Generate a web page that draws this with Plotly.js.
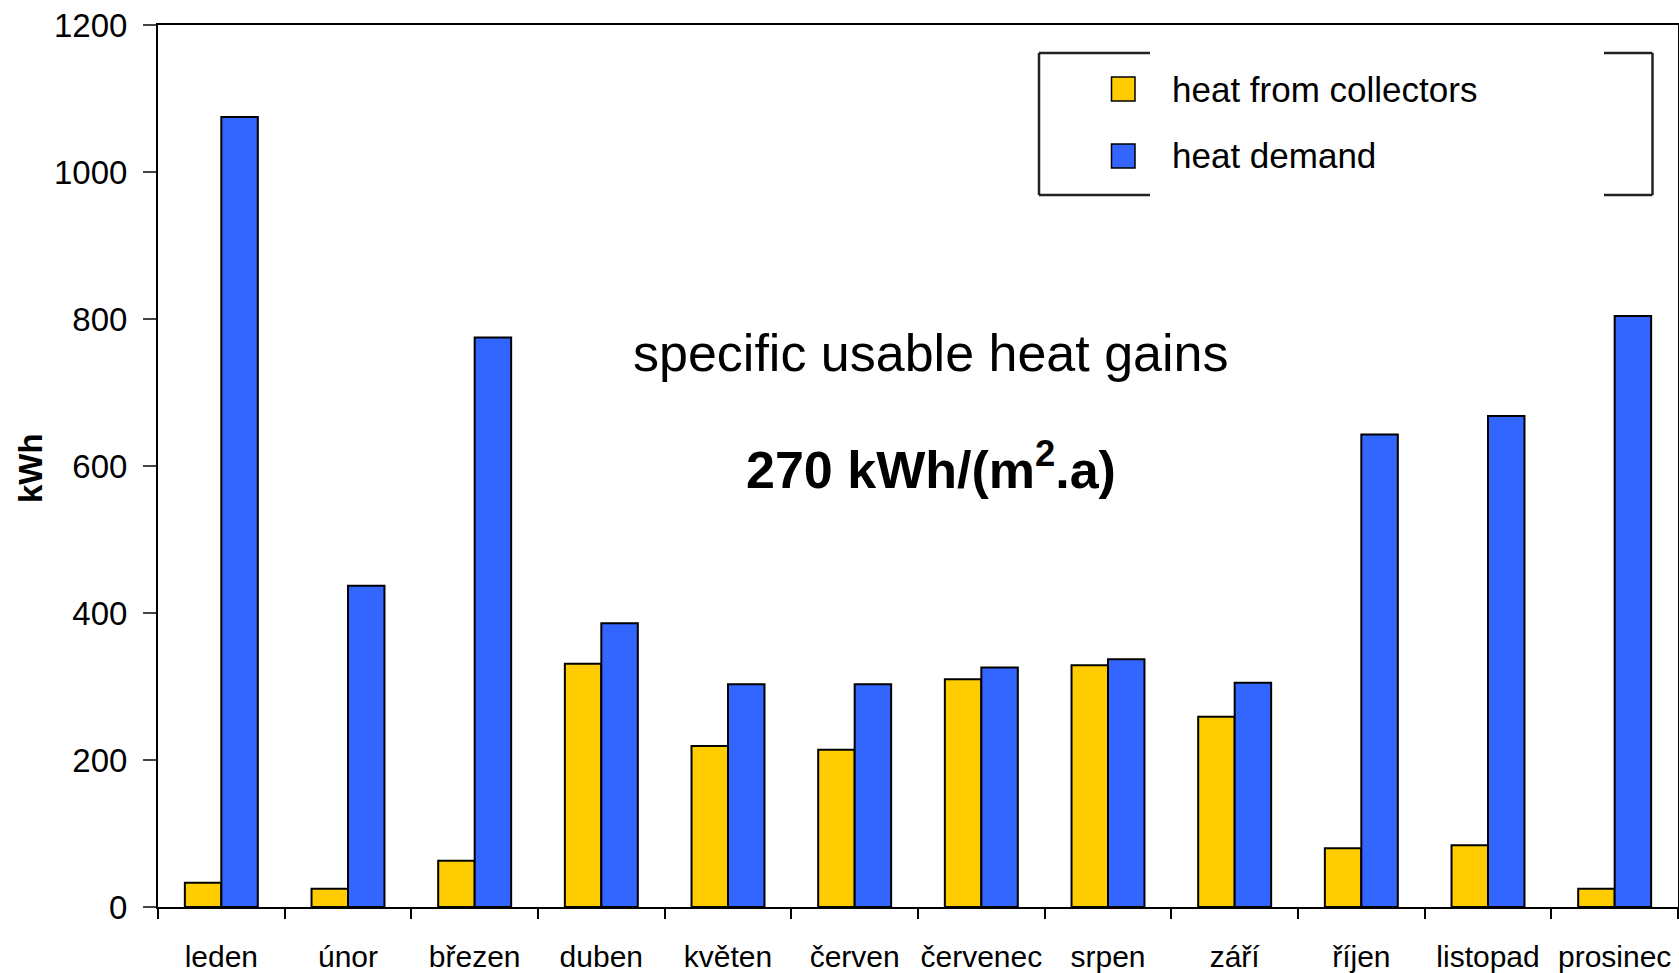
<!DOCTYPE html>
<html>
<head>
<meta charset="utf-8">
<script src="https://cdn.plot.ly/plotly-3.0.1.min.js"></script>
<style>html,body{margin:0;padding:0;background:#fff;}</style>
</head>
<body>
<div id="chart" style="width:1679px;height:973px;"></div>
<script>
// Monthly heat balance of a solar collector system (kWh)
const months = ['leden', 'únor', 'březen', 'duben', 'květen', 'červen',
                'červenec', 'srpen', 'září', 'říjen', 'listopad', 'prosinec'];
const collectorHeat = [33, 25, 63, 331, 219, 214, 310, 329, 259, 80, 84, 25];
const heatDemand = [1075, 437, 775, 386, 303, 303, 326, 337, 305, 643, 668, 804];
const seriesNames = ['heat from collectors', 'heat demand'];
const seriesColors = ['#FFCC00', '#3366FF'];
const yTicks = [0, 200, 400, 600, 800, 1000, 1200];
const yTitle = 'kWh';
const noteLines = ['specific usable heat gains', '<b>270 kWh/(m<sup>2</sup>.a)</b>'];

const FONT = '"Liberation Sans", Arial, sans-serif';

// page geometry (pixels)
const W = 1679, H = 973;
const M = {l: 158, r: 1, t: 25, b: 66};
const PW = W - M.l - M.r, PH = H - M.t - M.b;
const px = v => (v - M.l) / PW;          // page x -> paper x
const py = v => (H - M.b - v) / PH;      // page y -> paper y

const traces = [collectorHeat, heatDemand].map((vals, i) => ({
  type: 'bar',
  name: seriesNames[i],
  x: months,
  y: vals,
  marker: {color: seriesColors[i], line: {color: '#000', width: 2}},
  showlegend: false,
  hoverinfo: 'x+y+name'
}));

// hand-drawn legend box (the frame is broken along its top and bottom edges)
const box = {x0: 1039, x1: 1652.5, y0: 53, y1: 195, gapL: 1150, gapR: 1604};
const frameLine = {color: '#222', width: 2.5};
const seg = (x0, y0, x1, y1) => ({type: 'line', xref: 'paper', yref: 'paper',
  x0: px(x0), y0: py(y0), x1: px(x1), y1: py(y1), line: frameLine});
const shapes = [
  seg(box.x0, box.y0, box.x0, box.y1),
  seg(box.x1, box.y0, box.x1, box.y1),
  seg(box.x0, box.y0, box.gapL, box.y0),
  seg(box.gapR, box.y0, box.x1, box.y0),
  seg(box.x0, box.y1, box.gapL, box.y1),
  seg(box.gapR, box.y1, box.x1, box.y1)
];
const keyRows = [89, 156];
keyRows.forEach((cy, i) => {
  shapes.push({type: 'rect', xref: 'paper', yref: 'paper',
    x0: px(1111.5), x1: px(1135), y0: py(cy - 12), y1: py(cy + 12),
    fillcolor: seriesColors[i], line: {color: '#000', width: 1.5}});
});

const annotations = keyRows.map((cy, i) => ({
  xref: 'paper', yref: 'paper', x: px(1170), y: py(cy),
  xanchor: 'left', yanchor: 'middle', showarrow: false,
  text: seriesNames[i], font: {family: FONT, size: 35, color: '#000'}
}));
annotations.push({
  xref: 'paper', yref: 'paper', x: px(930.5), y: py(353),
  xanchor: 'center', yanchor: 'middle', showarrow: false,
  text: noteLines[0], font: {family: FONT, size: 52, color: '#000'}
});
annotations.push({
  xref: 'paper', yref: 'paper', x: px(930.5), y: py(466),
  xanchor: 'center', yanchor: 'middle', showarrow: false,
  text: noteLines[1], font: {family: FONT, size: 52, color: '#000'}
});
// vertical unit label beside the value axis
annotations.push({
  xref: 'paper', yref: 'paper', x: px(31), y: py(468),
  xanchor: 'center', yanchor: 'middle', showarrow: false, textangle: -90,
  text: '<b>' + yTitle + '</b>', font: {family: FONT, size: 33, color: '#000'}
});

const layout = {
  width: W, height: H,
  margin: M,
  paper_bgcolor: '#fff', plot_bgcolor: '#fff',
  barmode: 'group', bargap: 0.424, bargroupgap: 0,
  font: {family: FONT, color: '#000'},
  xaxis: {
    type: 'category', range: [-0.5, 11.5], tickangle: 0,
    tickson: 'boundaries', ticks: 'outside', ticklen: 10, tickwidth: 2, tickcolor: '#000',
    showline: true, linecolor: '#000', linewidth: 2, mirror: true,
    showgrid: false, zeroline: false,
    tickfont: {family: FONT, size: 30, color: '#000'},
    ticklabelstandoff: 22,
    automargin: false
  },
  yaxis: {
    range: [0, 1200], tickvals: yTicks, ticktext: yTicks.map(String),
    ticks: 'outside', ticklen: 13, tickwidth: 2, tickcolor: '#444',
    showline: true, linecolor: '#000', linewidth: 2, mirror: true,
    showgrid: false, zeroline: false,
    tickfont: {family: FONT, size: 33, color: '#000'},
    ticklabelstandoff: 9,
    automargin: false
  },
  shapes: shapes,
  annotations: annotations
};

Plotly.newPlot('chart', traces, layout, {displayModeBar: false});
</script>
</body>
</html>
